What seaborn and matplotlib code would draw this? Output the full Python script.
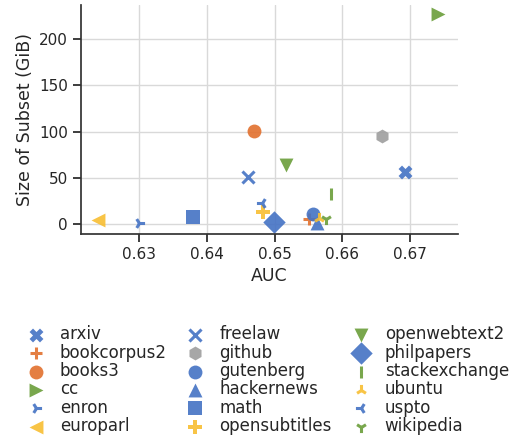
import pandas as pd
import matplotlib
matplotlib.use("Agg")
import matplotlib.pyplot as plt
import seaborn as sns

# Pile subsets: AUC vs size
subsets = ["arxiv", "bookcorpus2", "books3", "cc", "enron", "europarl",
           "freelaw", "github", "gutenberg", "hackernews", "math", "opensubtitles",
           "openwebtext2", "philpapers", "stackexchange", "ubuntu", "uspto", "wikipedia"]
auc = [0.6693, 0.6551, 0.6470, 0.6741, 0.6300, 0.6239,
       0.6461, 0.6659, 0.6556, 0.6563, 0.6380, 0.6483,
       0.6517, 0.6499, 0.6584, 0.6565, 0.6482, 0.6576]
size_gib = [56.6, 5.0, 100.7, 227.0, 1.0, 4.3,
            51.2, 95.0, 10.8, 1.4, 7.9, 13.3,
            63.9, 2.5, 32.0, 6.0, 23.0, 5.0]

blue, orange, green, gray, yellow = "#4472C4", "#E2702D", "#6A9E3A", "#9E9E9E", "#F8BE32"
colors = [blue, orange, orange, green, blue, yellow,
          blue, gray, blue, blue, blue, yellow,
          green, blue, green, yellow, blue, green]
markers = ["X", "+", "o", ">", "4", "<",
           "x", "h", "o", "^", "s", "P",
           "v", "D", "|", "2", "3", "1"]
line_art = {"+", "4", "x", "|", "2", "3", "1"}

df = pd.DataFrame({"subset": subsets, "AUC": auc, "Size of Subset (GiB)": size_gib})

sns.set_theme(context="notebook", style="whitegrid",
              rc={"xtick.bottom": True, "ytick.left": True,
                  "axes.edgecolor": "#333333", "axes.labelsize": 12.5,
                  "grid.color": "#d9d9d9"})

fig = plt.figure(figsize=(5.14, 4.41), dpi=100)
ax = fig.add_axes([0.158, 0.47, 0.733, 0.519])

for name, col, mk in zip(subsets, colors, markers):
    sub = df[df["subset"] == name]
    if mk in line_art:
        size = 75 if mk == "x" else 64
        sns.scatterplot(data=sub, x="AUC", y="Size of Subset (GiB)", color=col,
                        marker=mk, s=size, linewidth=2.2, alpha=0.9, label=name, ax=ax)
    else:
        size = 130 if mk == "D" else 100
        sns.scatterplot(data=sub, x="AUC", y="Size of Subset (GiB)", color=col,
                        marker=mk, s=size, linewidth=0, alpha=0.9, label=name, ax=ax)

ax.set_xlim(0.6214, 0.6771)
ax.set_ylim(-10.5, 237)
ax.set_xticks([0.63, 0.64, 0.65, 0.66, 0.67])
ax.set_yticks([0, 50, 100, 150, 200])
sns.despine(ax=ax)

ax.legend(loc="upper center", bbox_to_anchor=(0.485, -0.335), ncol=3, fontsize=12,
          frameon=False, handletextpad=0.45, columnspacing=0.72, labelspacing=0.02)

fig.savefig("out.png", dpi=100)
